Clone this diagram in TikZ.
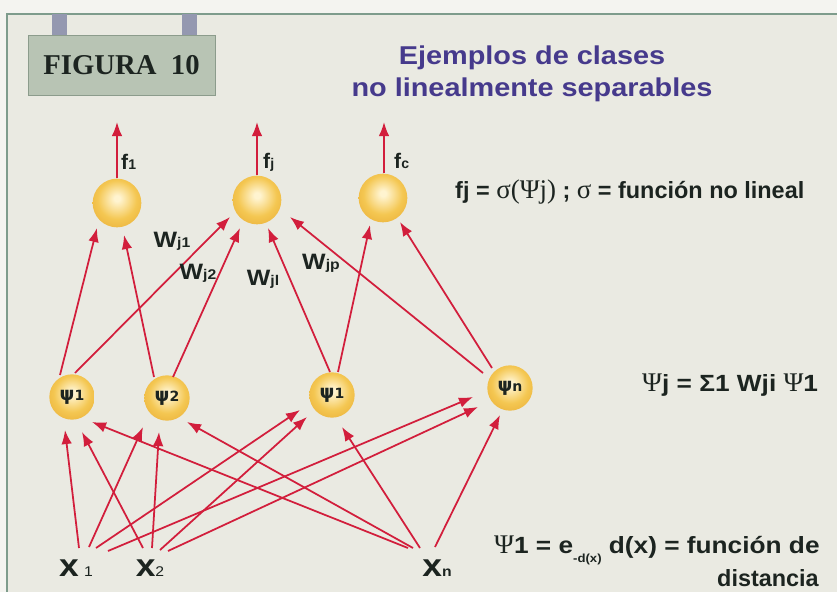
\documentclass[tikz,border=0pt]{standalone}
\usepackage{fontspec}
\setmainfont{Liberation Serif}
\setsansfont{Liberation Sans}
\newfontfamily\dvs{DejaVu Sans}
\newfontfamily\widesans[FakeStretch=1.12]{Liberation Sans}
\usetikzlibrary{arrows.meta,calc}
\definecolor{paper}{HTML}{F4F4F0}
\definecolor{bg}{HTML}{EAEAE2}
\definecolor{framec}{HTML}{7E9C8C}
\definecolor{boxfill}{HTML}{B8C4B4}
\definecolor{boxline}{HTML}{8C9C8C}
\definecolor{tabc}{HTML}{9498B0}
\definecolor{titlec}{HTML}{463A8C}
\definecolor{arrowred}{HTML}{D21E3C}
\definecolor{txt}{HTML}{1C2420}
\definecolor{sphhi}{HTML}{FFF4D0}
\definecolor{sphmid}{HTML}{F4C752}
\definecolor{sphedge}{HTML}{E39F26}
\pgfdeclareradialshading{sphere}{\pgfpoint{0bp}{5bp}}{color(0bp)=(sphhi); color(3bp)=(sphhi); color(20bp)=(sphmid); color(44bp)=(sphedge); color(62bp)=(sphedge)}
\tikzset{
  sphout/.style={circle, minimum size=1.46cm, inner sep=0pt, shading=sphere},
  sphhid/.style={circle, minimum size=1.36cm, inner sep=0pt, shading=sphere, text=txt, font=\dvs\bfseries\fontsize{16}{16}\selectfont},
  arr/.style={draw=arrowred, line width=1.5pt, -{Latex[length=12pt,width=9pt]}},
  flab/.style={text=txt, font=\sffamily\bfseries\fontsize{18}{18}\selectfont, inner sep=0pt},
  wlab/.style={text=txt, font=\widesans\bfseries\fontsize{19}{19}\selectfont, inner sep=0pt},
  xlab/.style={text=txt, font=\widesans\bfseries\fontsize{27}{27}\selectfont, inner sep=0pt},
  eq/.style={text=txt, font=\widesans\bfseries\fontsize{20}{20}\selectfont, inner sep=0pt},
}
\newcommand{\smallsub}[1]{{\fontsize{12}{12}\selectfont #1}}
\newcommand{\serifpart}[1]{{\rmfamily\mdseries\fontsize{23}{23}\selectfont #1}}
\begin{document}
\begin{tikzpicture}[x=0.03cm,y=-0.03cm]
\useasboundingbox (0,0) rectangle (837,592);
\clip (0,0) rectangle (837,592);
\fill[paper] (0,0) rectangle (837,592);
\fill[bg] (7,14) rectangle (837,592);
\draw[framec, line width=1.2pt] (7,592) -- (7,14) -- (837,14);
% FIGURA box
\fill[tabc] (52,14) rectangle (67,36);
\fill[tabc] (182,14) rectangle (197,36);
\node[draw=boxline, fill=boxfill, line width=0.8pt, minimum width=187*0.03cm, minimum height=60*0.03cm, inner sep=0pt,
      text=txt, font=\rmfamily\bfseries\fontsize{24.5}{24.5}\selectfont] (fig) at (121.5,65) {FIGURA\ \ 10};
% title
\node[text=titlec, font=\widesans\bfseries\fontsize{22}{27.5}\selectfont, align=center] (title) at (532,74)
  {Ejemplos de clases\\no linealmente separables};
% output neurons
\node[sphout] (O1) at (117,203) {};
\node[sphout] (O2) at (257,200) {};
\node[sphout] (O3) at (383,198) {};
\coordinate (t1) at (117,122);
\coordinate (t2) at (257,122);
\coordinate (t3) at (384,122);
\draw[arr] (O1.north) -- (t1);
\draw[arr] (O2.north) -- (t2);
\draw[arr] ($(O3.north)+(1,0)$) -- (t3);
\node[flab, anchor=west] (f1) at (121,162) {f\smallsub{1}};
\node[flab, anchor=west] (fj) at (263,162) {f\smallsub{j}};
\node[flab, anchor=west] (fc) at (394,161) {f\smallsub{c}};
% hidden neurons
\node[sphhid] (A) at (72,397) {ψ\smallsub{1}};
\node[sphhid] (B) at (167,398) {ψ\smallsub{2}};
\node[sphhid] (C) at (332,395) {ψ\smallsub{1}};
\node[sphhid] (D) at (510,388) {ψ\smallsub{n}};
% inputs
\node[xlab] (x1) at (76,568) {x\,\smallsub{\mdseries 1}};
\node[xlab] (x2) at (150,568) {x\smallsub{\mdseries 2}};
\node[xlab] (xn) at (437,568) {x\smallsub{n}};
% hidden -> output
\draw[arr] ($(A)+(-12,-22)$) -- ($(O1)+(-20,25)$);
\draw[arr] ($(A)+(3,-24)$) -- ($(O2)+(-27,17)$);
\draw[arr] ($(B)+(-13,-21)$) -- ($(O1)+(7,32)$);
\draw[arr] ($(B)+(6,-21)$) -- ($(O2)+(-17,28)$);
\draw[arr] ($(C)+(-2,-23)$) -- ($(O2)+(11,28)$);
\draw[arr] ($(C)+(6,-23)$) -- ($(O3)+(-13,27)$);
\draw[arr] ($(D)+(-27,-15)$) -- ($(O2)+(33,17)$);
\draw[arr] ($(D)+(-18,-20)$) -- ($(O3)+(17,24)$);
% input -> hidden
\draw[arr] ($(x1)+(3,-20)$) -- ($(A)+(-7,33)$);
\draw[arr] ($(x1)+(13,-21)$) -- ($(B)+(-24,29)$);
\draw[arr] ($(x1)+(20,-20)$) -- ($(C)+(-32,15)$);
\draw[arr] ($(x1)+(32,-17)$) -- ($(D)+(-37,9)$);
\draw[arr] ($(x2)+(-7,-20)$) -- ($(A)+(10,35)$);
\draw[arr] ($(x2)+(2,-20)$) -- ($(B)+(-8,34)$);
\draw[arr] ($(x2)+(10,-18)$) -- ($(C)+(-25,22)$);
\draw[arr] ($(x2)+(18,-17)$) -- ($(D)+(-32,19)$);
\draw[arr] ($(xn)+(-29,-20)$) -- ($(A)+(20,25)$);
\draw[arr] ($(xn)+(-24,-20)$) -- ($(B)+(20,24)$);
\draw[arr] ($(xn)+(-17,-20)$) -- ($(C)+(10,32)$);
\draw[arr] ($(xn)+(-2,-21)$) -- ($(D)+(-10,27)$);
% weight labels
\node[wlab] (w1) at (172,241) {W\smallsub{j1}};
\node[wlab] (w2) at (198,273) {W\smallsub{j2}};
\node[wlab] (wi) at (263,279) {W\smallsub{jl}};
\node[wlab] (wp) at (321,263) {W\smallsub{jp}};
% equations
\node[eq, anchor=base west, font=\sffamily\bfseries\fontsize{20}{20}\selectfont] (e1) at (455,199) {fj = \serifpart{σ(Ψj)} ; \serifpart{σ} = función no lineal};
\node[eq, anchor=base west] (e2) at (642,391) {\serifpart{Ψ}j = Σ1 Wji \serifpart{Ψ}1};
\node[eq, anchor=base west] (e3) at (494,553) {\serifpart{Ψ}1 = e\raisebox{-0.4em}{\fontsize{10}{10}\selectfont -d(x)}\ d(x) = función de};
\node[eq, anchor=base east, font=\sffamily\bfseries\fontsize{20}{20}\selectfont] (e4) at (819,586) {distancia};
\end{tikzpicture}
\end{document}
